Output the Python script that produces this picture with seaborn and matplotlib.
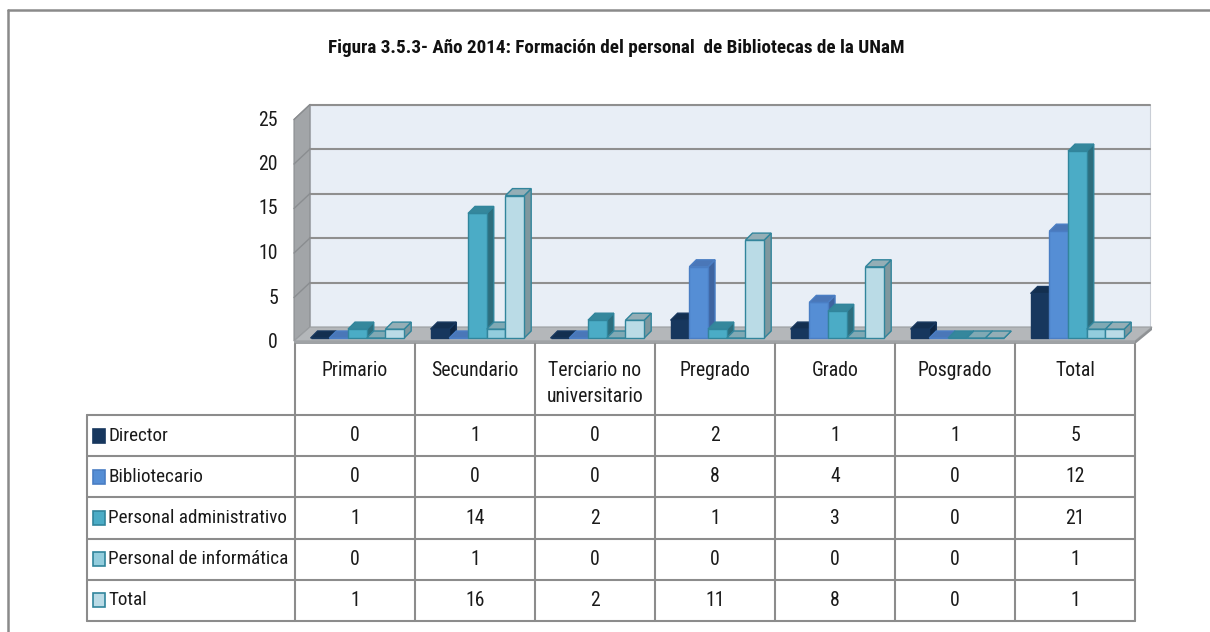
import matplotlib
matplotlib.use("Agg")
import matplotlib.pyplot as plt
import matplotlib.transforms as mtransforms
from matplotlib import font_manager as fm
from matplotlib.patches import Polygon, Rectangle
from matplotlib.lines import Line2D
import pandas as pd
import seaborn as sns

# ---------------- data ----------------
categories = ["Primario", "Secundario", "Terciario no\nuniversitario",
              "Pregrado", "Grado", "Posgrado", "Total"]
series = ["Director", "Bibliotecario", "Personal administrativo",
          "Personal de informática", "Total"]
director = [0, 1, 0, 2, 1, 1, 5]
bibliotecario = [0, 0, 0, 8, 4, 0, 12]
administrativo = [1, 14, 2, 1, 3, 0, 21]
informatica = [0, 1, 0, 0, 0, 0, 1]
total = [1, 16, 2, 11, 8, 0, 1]
y_ticks = [0, 5, 10, 15, 20, 25]
title = "Figura 3.5.3- Año 2014: Formación del personal  de Bibliotecas de la UNaM"

rows = [director, bibliotecario, administrativo, informatica, total]

# ---------------- style ----------------
front = ["#17375E", "#558ED5", "#4BACC6", "#93CDDD", "#BADBE6"]
topc = ["#132F50", "#4A77B8", "#35879C", "#7FA9B4", "#94AEB6"]
sidec = ["#0F2642", "#3E64A0", "#2D6E7E", "#6E8F98", "#7F979E"]
edgec = ["#17375E", "#4A7EC4", "#31859C", "#31859C", "#31859C"]
GRID = "#8F8F8F"
LINE = "#8C8C8C"


def pick_font(cands):
    for name in cands:
        try:
            fm.findfont(fm.FontProperties(family=name), fallback_to_default=False)
            return name
        except ValueError:
            continue
    return "DejaVu Sans"


sns.set_theme(style="white")
FONT = pick_font(["Liberation Sans Narrow", "Roboto Condensed", "Open Sans Condensed",
                  "Liberation Sans"])
plt.rcParams["font.family"] = [FONT, "DejaVu Sans"]
TXT = "#1A1A1A"
FS = 14.2
FS_LEG = 13.8

W, H = 1210, 632
fig = plt.figure(figsize=(W / 100, H / 100), dpi=100)
fig.patch.set_facecolor("white")

bg = fig.add_axes([0, 0, 1, 1])
bg.set_xlim(0, W)
bg.set_ylim(H, 0)
bg.axis("off")

# plot area (front plane) in pixels
X0, X1 = 295, 1135
Y0 = 338
PX_UNIT = 8.9
YMAX = 25
DX, DY = 15, 11      # wall depth
D = 7                # bar depth
SHIFT = 0.02         # bars sit slightly right of the column centres in the 3D view

ax = fig.add_axes([X0 / W, (H - Y0) / H, (X1 - X0) / W, YMAX * PX_UNIT / H])
ax.set_zorder(2)
ax.patch.set_alpha(0)

df = pd.DataFrame({
    "Nivel": categories * len(series),
    "Serie": [s for s in series for _ in categories],
    "Cantidad": director + bibliotecario + administrativo + informatica + total,
})
sns.barplot(data=df, x="Nivel", y="Cantidad", hue="Serie", order=categories,
            hue_order=series, palette=dict(zip(series, front)), saturation=1,
            width=0.78, ax=ax, legend=False, errorbar=None)
ax.set_xlim(-0.5 - SHIFT, len(categories) - 0.5 - SHIFT)
ax.set_ylim(0, YMAX)
for sp in ax.spines.values():
    sp.set_visible(False)
ax.set_xlabel("")
ax.set_ylabel("")
ax.set_yticks([])
ax.set_xticks([i - SHIFT for i in range(len(categories))])
ax.set_xticklabels(categories, fontsize=FS, color=TXT, va="top", linespacing=1.45)
ax.tick_params(axis="x", length=0, pad=16.5)


def to_bg(pt):
    return bg.transData.inverted().transform(pt)


def ax_to_bg(x, y):
    return to_bg(ax.transData.transform((x, y)))


# ---------------- walls and floor ----------------
y_top_back = ax_to_bg(0, YMAX)[1] - DY
y_base_back = Y0 - DY
bg.add_patch(Rectangle((X0 + DX, y_top_back), X1 - X0, y_base_back - y_top_back,
                       facecolor="#E8EEF6", edgecolor="#C9CED6", lw=0.8, zorder=1))
bg.add_patch(Polygon([(X0 - 1, Y0 + 3), (X0 + DX, y_base_back), (X0 + DX, y_top_back),
                      (X0 - 1, y_top_back + DY + 4)], closed=True,
                     facecolor="#A2A5A8", edgecolor="#8A8D90", lw=0.8, zorder=1))
bg.add_patch(Polygon([(X0 - 1, Y0 + 3), (X1, Y0 + 3), (X1 + DX + 2, y_base_back),
                      (X0 + DX, y_base_back)], closed=True,
                     facecolor="#B4B7BA", edgecolor="#9A9DA0", lw=0.8, zorder=1.2))
bg.add_patch(Polygon([(X0 - 1, Y0 + 3), (X1, Y0 + 3), (X1, Y0 + 6), (X0 - 1, Y0 + 6)],
                     closed=True, facecolor="#9FA2A5", edgecolor="none", zorder=1.2))
bg.add_patch(Polygon([(X1, Y0 + 3), (X1 + DX + 2, y_base_back), (X1 + DX + 2, y_base_back + 3),
                      (X1, Y0 + 6)], closed=True, facecolor="#8E9194", edgecolor="none",
                     zorder=1.2))

for v in y_ticks[1:]:
    yb = ax_to_bg(0, v)[1] - DY
    bg.add_line(Line2D([X0 + DX, X1 + DX], [yb, yb], color=GRID, lw=1.5, zorder=1.1))
    bg.add_line(Line2D([X0 - 1, X0 + DX], [yb + DY + 4, yb], color="#8A8D90", lw=1.0,
                       zorder=1.1))

# y-axis labels on the front plane
lab_tr = mtransforms.blended_transform_factory(ax.transAxes, ax.transData) + \
    mtransforms.ScaledTranslation(-0.17, -0.045, fig.dpi_scale_trans)
for v in y_ticks:
    ax.text(0, v, str(v), transform=lab_tr, ha="right", va="center",
            fontsize=FS, color=TXT, clip_on=False)

# ---------------- 3D faces on the bars ----------------
bars = []
for si, cont in enumerate(ax.containers):
    for p in cont.patches:
        bars.append((p.get_x(), si, p))
bars.sort(key=lambda b: b[0])
for k, (_, si, p) in enumerate(bars):
    x, w, h = p.get_x(), p.get_width(), p.get_height()
    left, bottom = ax_to_bg(x, 0)
    right, top = ax_to_bg(x + w, h)
    z = 3 + 3 * k
    p.set_zorder(z + 1)
    p.set_edgecolor(edgec[si])
    p.set_linewidth(1.0)
    p.set_clip_on(False)
    side = Polygon([(right, top), (right + D, top - D), (right + D, bottom - D), (right, bottom)],
                   closed=True, facecolor=sidec[si], edgecolor=edgec[si], lw=1.0,
                   transform=bg.transData, zorder=z, clip_on=False)
    topf = Polygon([(left, top), (right, top), (right + D, top - D), (left + D, top - D)],
                   closed=True, facecolor=topc[si], edgecolor=edgec[si], lw=1.0,
                   transform=bg.transData, zorder=z + 2, clip_on=False)
    ax.add_patch(side)
    ax.add_patch(topf)

# ---------------- data table ----------------
TL = 87
row_top = 415
row_h = 41.2
n_rows = len(series)
tbl_bottom = row_top + n_rows * row_h
col_edges = [X0 + i * (X1 - X0) / len(categories) for i in range(len(categories) + 1)]
col_centers = [(a + b) / 2 for a, b in zip(col_edges[:-1], col_edges[1:])]
lw_t = 1.5
for xe in col_edges:
    bg.add_line(Line2D([xe, xe], [Y0 + 6, tbl_bottom], color=LINE, lw=lw_t, zorder=1.5))
bg.add_line(Line2D([TL, TL], [row_top, tbl_bottom], color=LINE, lw=lw_t, zorder=1.5))
for r in range(n_rows + 1):
    yy = row_top + r * row_h
    bg.add_line(Line2D([TL, col_edges[-1]], [yy, yy], color=LINE, lw=lw_t, zorder=1.5))

for r, (name, vals) in enumerate(zip(series, rows)):
    yc = row_top + (r + 0.5) * row_h
    bg.add_patch(Rectangle((TL + 6, yc - 7), 12, 14, facecolor=front[r],
                           edgecolor=edgec[r], lw=1.2, zorder=2))
    bg.text(TL + 21, yc, name, ha="left", va="center", fontsize=FS_LEG, color=TXT, zorder=2)
    for xc, v in zip(col_centers, vals):
        bg.text(xc, yc, str(v), ha="center", va="center", fontsize=FS, color=TXT, zorder=2)

# ---------------- title and outer frame ----------------
bg.text(616, 48, title, ha="center", va="center", fontsize=13.8, fontweight="bold",
        color="#111111")
bg.add_line(Line2D([8, W], [10, 10], color="#8A8A8A", lw=1.8))
bg.add_line(Line2D([8, 8], [10, H], color="#8A8A8A", lw=1.8))

fig.savefig("out.png", dpi=100, facecolor="white")
